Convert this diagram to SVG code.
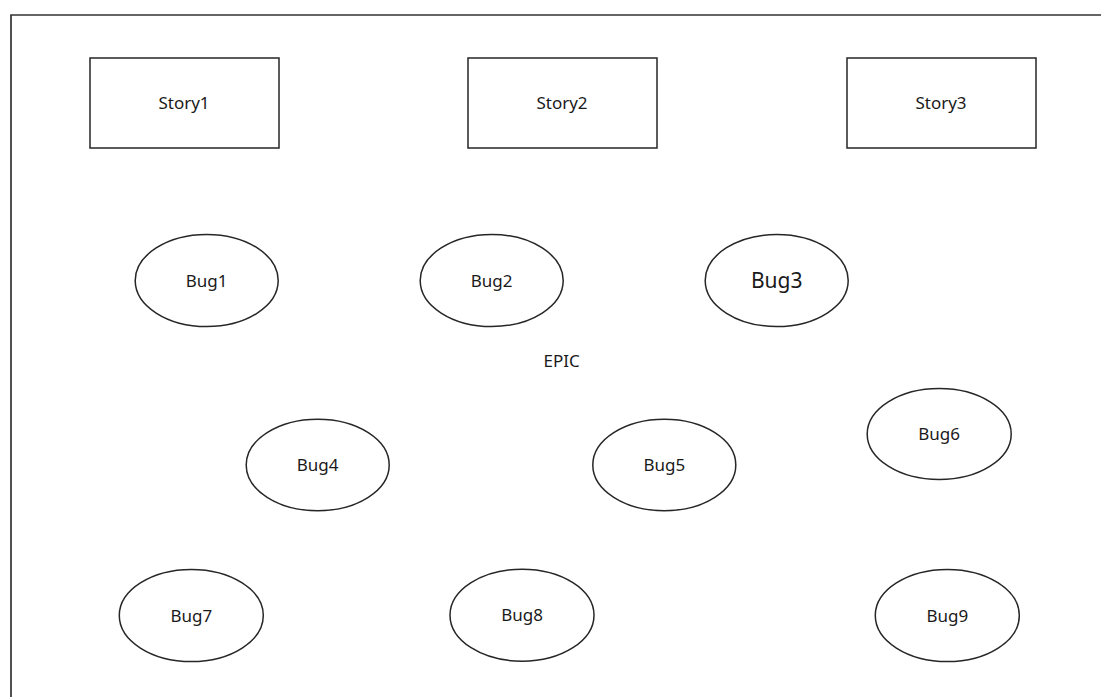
<svg xmlns="http://www.w3.org/2000/svg" width="1101" height="697" viewBox="0 0 1101 697">
  <style>
    .frame { fill: none; stroke: #333333; stroke-width: 1.7; }
    .shape { fill: #ffffff; stroke: #262626; stroke-width: 1.5; }
    .label { font-family: "Noto Sans", "Open Sans", sans-serif; font-size: 17px; fill: #1a1a1a; text-anchor: middle; }
    .big { font-size: 21px; }
  </style>
  <rect width="1101" height="697" fill="#ffffff"/>
  <!-- outer boundary, open to the right and bottom -->
  <path class="frame" d="M11,697 V15 H1101"/>

  <g id="connectors"/>

  <g id="story1">
    <rect class="shape" x="90" y="58" width="189" height="90"/>
    <text class="label" x="184" y="109">Story1</text>
  </g>
  <g id="story2">
    <rect class="shape" x="468" y="58" width="189" height="90"/>
    <text class="label" x="562" y="109">Story2</text>
  </g>
  <g id="story3">
    <rect class="shape" x="847" y="58" width="189" height="90"/>
    <text class="label" x="941" y="109">Story3</text>
  </g>

  <g id="bug1">
    <ellipse class="shape" cx="206.7" cy="280.5" rx="71.5" ry="46"/>
    <text class="label" x="206.7" y="286.5">Bug1</text>
  </g>
  <g id="bug2">
    <ellipse class="shape" cx="491.7" cy="280.5" rx="71.5" ry="46"/>
    <text class="label" x="491.7" y="286.5">Bug2</text>
  </g>
  <g id="bug3">
    <ellipse class="shape" cx="776.7" cy="280.5" rx="71.5" ry="46"/>
    <text class="label big" x="776.7" y="288">Bug3</text>
  </g>

  <g id="epic">
    <text class="label" x="561.7" y="367">EPIC</text>
  </g>

  <g id="bug4">
    <ellipse class="shape" cx="317.7" cy="465" rx="71.5" ry="45.7"/>
    <text class="label" x="317.7" y="471">Bug4</text>
  </g>
  <g id="bug5">
    <ellipse class="shape" cx="664.3" cy="465" rx="71.5" ry="45.7"/>
    <text class="label" x="664.3" y="471">Bug5</text>
  </g>
  <g id="bug6">
    <ellipse class="shape" cx="939.2" cy="434" rx="72" ry="45.5"/>
    <text class="label" x="939.2" y="440">Bug6</text>
  </g>

  <g id="bug7">
    <ellipse class="shape" cx="191.3" cy="615.5" rx="72" ry="46"/>
    <text class="label" x="191.3" y="621.5">Bug7</text>
  </g>
  <g id="bug8">
    <ellipse class="shape" cx="522" cy="615.2" rx="72" ry="46"/>
    <text class="label" x="522" y="621.2">Bug8</text>
  </g>
  <g id="bug9">
    <ellipse class="shape" cx="947.3" cy="615.5" rx="72" ry="46"/>
    <text class="label" x="947.3" y="621.5">Bug9</text>
  </g>
</svg>
